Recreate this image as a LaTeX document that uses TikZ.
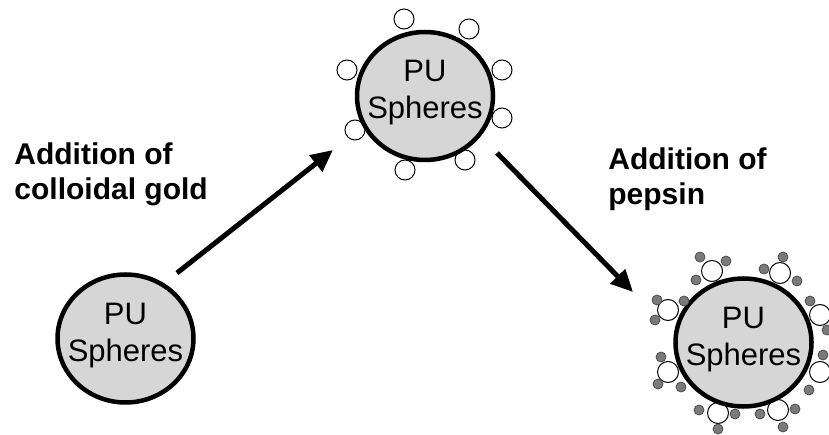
\documentclass[tikz,border=0pt]{standalone}
\usepackage{fontspec}
\setmainfont{Liberation Sans}
\usetikzlibrary{arrows.meta,shapes.geometric}

\begin{document}
\begin{tikzpicture}[x=0.5pt,y=0.5pt,
	sphere/.style={ellipse, draw, line width=2.25pt, fill=gray!32, minimum width=68pt, minimum height=64pt, inner sep=0pt},
	sphtext/.style={align=center, inner sep=0pt, font=\fontsize{15.5}{18.5}\selectfont},
	addtext/.style={align=left, anchor=north west, inner sep=0pt, font=\bfseries\fontsize{15}{17.5}\selectfont},
	goldpart/.style={draw, fill=white, line width=0.5pt},
	pepdot/.style={draw=black!70, fill=black!52, line width=0.4pt},
	arr/.style={line width=2.5pt, -{Triangle[length=11pt,width=10pt]}}]

	\useasboundingbox (0,0) rectangle (829,434);

	% gold on the middle sphere
	\foreach \x/\y in {404/415, 469/405, 347/364, 502/364, 502/316, 355/304, 405/264, 465/274}
		\draw[goldpart] (\x,\y) circle (10);
	% gold on the right sphere
	\foreach \x/\y in {712/163, 780/161, 668/124, 820/119, 668/62, 820/62, 718/21, 778/24}
		\draw[goldpart] (\x,\y) circle (10.5);

	\node[sphere] (s1) at (125.5,95.5) {};
	\node[sphere] (s2) at (425,338) {};
	\node[sphere] (s3) at (743.5,91.5) {};
	\foreach \s in {1,2,3}
		\node[sphtext] (t\s) at ([yshift=1.5pt]s\s.center) {PU\\Spheres};

	% pepsin
	\foreach \x/\y in {700/177, 726/173, 696/154, 783/177, 764/165, 797/153, 657/134, 684/133, 655/114, 810/133, 827/104,
			661/77, 658/50, 681/47, 823/79, 809/44, 699/24, 735/20, 718/5, 760/20, 795/25, 783/7}
		\draw[pepdot] (\x,\y) circle (5);

	\node[addtext] (lgold) at (14,292) {Addition of\\colloidal gold};
	\node[addtext] (lpep) at (608,287) {Addition of\\pepsin};

	\coordinate (a1s) at (177,161);
	\coordinate (a1e) at (333,284);
	\coordinate (a2s) at (497,281);
	\coordinate (a2e) at (633,142);
	\draw[arr] (a1s) -- (a1e);
	\draw[arr] (a2s) -- (a2e);
\end{tikzpicture}
\end{document}
